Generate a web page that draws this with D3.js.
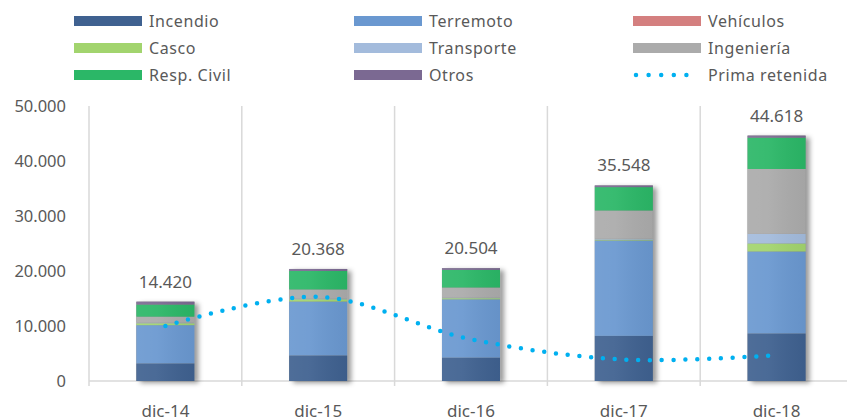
<!DOCTYPE html>
<html lang="es">
<head>
  <meta charset="UTF-8">
  <title>Primas por ramo</title>
  <script src="https://d3js.org/d3.v7.min.js"></script>
  <style>
    body { margin: 0; background: #fff; }
    text { font-family: "Noto Sans", "Open Sans", sans-serif; fill: #595959; }
  </style>
</head>
<body>
  <script>
    // data
    var categories = ["dic-14", "dic-15", "dic-16", "dic-17", "dic-18"];
    var seriesNames = ["Incendio", "Terremoto", "Vehículos", "Casco", "Transporte", "Ingeniería", "Resp. Civil", "Otros"];
    var incendio   = [3200, 4650, 4250, 8200, 8650];
    var terremoto  = [6950, 9800, 10600, 17350, 14900];
    var vehiculos  = [0, 0, 0, 0, 0];
    var casco      = [350, 400, 200, 150, 1450];
    var transporte = [100, 100, 100, 150, 1750];
    var ingenieria = [1100, 1700, 1850, 5150, 11800];
    var respCivil  = [2200, 3350, 3200, 4250, 5700];
    var otros      = [520, 368, 304, 298, 368];
    var totals     = [14420, 20368, 20504, 35548, 44618];
    var primaRetenida = [10000, 15300, 7600, 3900, 4700];
    var yTicks = [0, 10000, 20000, 30000, 40000, 50000];

    var colors = ["#3f6190", "#6a98d0", "#d47f7f", "#a2d46e", "#a3bbdc", "#ababab", "#2bb767", "#7b6992"];
    var lineColor = "#00b0f0";

    var w = 847, h = 418;
    var plotLeft = 89, plotRight = 853, plotTop = 106, plotBottom = 381;

    var es = d3.formatLocale({ decimal: ",", thousands: ".", grouping: [3], currency: ["", ""] });
    var fmt = es.format(",.0f");

    var values = [incendio, terremoto, vehiculos, casco, transporte, ingenieria, respCivil, otros];
    var table = categories.map(function(c, i) {
      var row = { cat: c };
      seriesNames.forEach(function(s, j) { row[s] = values[j][i]; });
      return row;
    });
    var stacked = d3.stack().keys(seriesNames)(table);

    var x = d3.scaleBand().domain(categories).range([plotLeft, plotRight]).padding(0);
    var y = d3.scaleLinear().domain([0, 50000]).range([plotBottom, plotTop]);
    var barW = x.bandwidth() * 0.38;
    function cx(c) { return x(c) + x.bandwidth() / 2; }

    var svg = d3.select("body").append("svg")
                .attr("width", w)
                .attr("height", h);

    var defs = svg.append("defs");
    var f = defs.append("filter").attr("id", "shadow")
                .attr("x", "-30%").attr("y", "-10%").attr("width", "170%").attr("height", "130%");
    f.append("feDropShadow").attr("dx", 4).attr("dy", 2).attr("stdDeviation", 2.5)
     .attr("flood-color", "#000").attr("flood-opacity", 0.4);
    var g = defs.append("linearGradient").attr("id", "sheen");
    g.append("stop").attr("offset", "0%").attr("stop-color", "#fff").attr("stop-opacity", 0.08);
    g.append("stop").attr("offset", "35%").attr("stop-color", "#fff").attr("stop-opacity", 0.06);
    g.append("stop").attr("offset", "100%").attr("stop-color", "#000").attr("stop-opacity", 0.04);

    // grid: category separators
    var bounds = d3.range(categories.length + 1).map(function(i) { return plotLeft + i * x.step(); });
    svg.append("g").selectAll("line")
       .data(bounds)
       .enter()
       .append("line")
       .attr("x1", function(d) { return d; })
       .attr("x2", function(d) { return d; })
       .attr("y1", plotTop)
       .attr("y2", plotBottom + 5)
       .attr("stroke", "#d9d9d9")
       .attr("stroke-width", 1.5);

    svg.append("line")
       .attr("x1", plotLeft).attr("x2", plotRight)
       .attr("y1", plotBottom).attr("y2", plotBottom)
       .attr("stroke", "#d9d9d9")
       .attr("stroke-width", 1.5);

    // y axis labels
    var yAxis = d3.axisLeft(y).tickValues(yTicks).tickFormat(fmt).tickSize(0).tickPadding(23);
    var ya = svg.append("g").attr("transform", "translate(" + plotLeft + ",0)").call(yAxis);
    ya.select(".domain").remove();
    ya.selectAll("text").style("font-size", "16.5px").attr("fill", "#595959");

    // x axis labels
    var xAxis = d3.axisBottom(x).tickSize(0).tickPadding(24);
    var xa = svg.append("g").attr("transform", "translate(0," + plotBottom + ")").call(xAxis);
    xa.select(".domain").remove();
    xa.selectAll("text").style("font-size", "17px").attr("fill", "#595959");

    // bar shadows
    svg.append("g").selectAll("rect")
       .data(categories)
       .enter()
       .append("rect")
       .attr("x", function(d) { return cx(d) - barW / 2; })
       .attr("y", function(d, i) { return y(totals[i]); })
       .attr("width", barW)
       .attr("height", function(d, i) { return y(0) - y(totals[i]); })
       .attr("fill", "#888")
       .attr("filter", "url(#shadow)");

    // stacked bars
    svg.append("g").selectAll("g")
       .data(stacked)
       .enter()
       .append("g")
       .attr("fill", function(d, i) { return colors[i]; })
       .selectAll("rect")
       .data(function(d) { return d; })
       .enter()
       .append("rect")
       .attr("x", function(d) { return cx(d.data.cat) - barW / 2; })
       .attr("y", function(d) { return y(d[1]); })
       .attr("width", barW)
       .attr("height", function(d) { return y(d[0]) - y(d[1]); });

    svg.append("g").selectAll("rect")
       .data(categories)
       .enter()
       .append("rect")
       .attr("x", function(d) { return cx(d) - barW / 2; })
       .attr("y", function(d, i) { return y(totals[i]); })
       .attr("width", barW)
       .attr("height", function(d, i) { return y(0) - y(totals[i]); })
       .attr("fill", "url(#sheen)");

    // total labels
    svg.append("g").selectAll("text")
       .data(categories)
       .enter()
       .append("text")
       .text(function(d, i) { return fmt(totals[i]); })
       .attr("x", function(d) { return cx(d); })
       .attr("y", function(d, i) { return y(totals[i]) - 14; })
       .attr("text-anchor", "middle")
       .style("font-size", "17px")
       .attr("fill", "#404040");

    // prima retenida line
    var line = d3.line()
                 .x(function(d, i) { return cx(categories[i]); })
                 .y(function(d) { return y(d); })
                 .curve(d3.curveCatmullRom.alpha(0.5));

    svg.append("path")
       .datum(primaRetenida)
       .attr("d", line)
       .attr("fill", "none")
       .attr("stroke", lineColor)
       .attr("stroke-width", 4.5)
       .attr("stroke-linecap", "round")
       .attr("stroke-dasharray", "0 11.8");

    // legend
    var legendItems = seriesNames.concat(["Prima retenida"]);
    var colX = [74, 354, 633];
    var lg = svg.append("g").selectAll("g")
                .data(legendItems)
                .enter()
                .append("g")
                .attr("transform", function(d, i) {
                  return "translate(" + colX[i % 3] + "," + (21 + Math.floor(i / 3) * 27) + ")";
                });

    lg.filter(function(d, i) { return i < seriesNames.length; })
      .append("rect")
      .attr("x", 0).attr("y", -5)
      .attr("width", 68).attr("height", 10)
      .attr("fill", function(d, i) { return colors[i]; });

    lg.filter(function(d, i) { return i === seriesNames.length; })
      .append("line")
      .attr("x1", 3).attr("x2", 66)
      .attr("y1", 0).attr("y2", 0)
      .attr("stroke", lineColor)
      .attr("stroke-width", 4.5)
      .attr("stroke-linecap", "round")
      .attr("stroke-dasharray", "0 12.6");

    lg.append("text")
      .text(function(d) { return d; })
      .attr("x", 75)
      .attr("y", 0)
      .attr("dy", "0.35em")
      .style("font-size", "16px")
      .style("letter-spacing", "0.6px")
      .attr("fill", "#595959");
  </script>
</body>
</html>
